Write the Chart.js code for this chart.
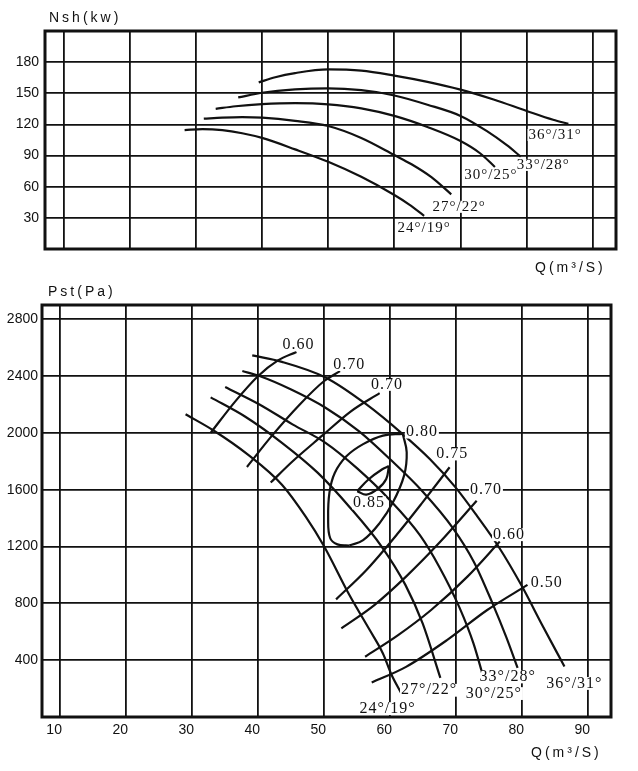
<!DOCTYPE html>
<html>
<head>
<meta charset="utf-8">
<script src="https://cdn.jsdelivr.net/npm/chart.js@4.4.1/dist/chart.umd.min.js"></script>
<style>
  html, body { margin: 0; padding: 0; background: #fff; }
  #wrap { position: relative; width: 638px; height: 771px; }
  canvas { position: absolute; left: 0; }
  #nshChart { top: 0; }
  #pstChart { top: 280px; }
</style>
</head>
<body>
<div id="wrap">
  <canvas id="nshChart" width="638" height="280"></canvas>
  <canvas id="pstChart" width="638" height="491"></canvas>
</div>
<script>
// ---- tick labels ----
const qTicks = [10, 20, 30, 40, 50, 60, 70, 80, 90];
const nshTicks = [30, 60, 90, 120, 150, 180];
const pstTicks = [400, 800, 1200, 1600, 2000, 2400, 2800];

const bladeAngles = ["24°/19°", "27°/22°", "30°/25°", "33°/28°", "36°/31°"];

// ---- shaft power Nsh (kW) vs Q ----
const nshQ24 = [28.3, 31, 34, 37, 40, 45, 50, 55, 60, 62.2, 64.5];
const nsh24 = [114.5, 115.5, 114.5, 111.5, 107, 96, 84, 69.5, 52, 43, 32];
const nshQ27 = [31.2, 34, 37, 40, 45, 50, 55, 60, 62.6, 65.6, 68.6];
const nsh27 = [125.5, 126.5, 127, 126.5, 123.5, 118.5, 107, 90.5, 81.6, 69.2, 52.7];
const nshQ30 = [33, 36, 40, 45, 50, 55, 60, 65, 70, 73, 75.2];
const nsh30 = [135, 137.5, 139.5, 140.5, 139.4, 135.5, 128.2, 117.5, 104, 92, 79];
const nshQ33 = [36.4, 40, 45, 50, 55, 60, 65, 70, 74, 77, 79.1];
const nsh33 = [146, 150.5, 153.8, 154.8, 153, 147.9, 139, 128.2, 113.5, 100, 89];
const nshQ36 = [39.5, 42, 45, 50, 55, 60, 65, 70, 75, 80, 84, 86.3];
const nsh36 = [160.5, 165.5, 169.5, 173, 171.8, 167, 161, 153.5, 144, 133, 124.5, 120.5];

const nshLabelQ = [64.5, 69.8, 74.6, 82.5, 84.3];
const nshLabelN = [20.5, 40.6, 71.4, 81, 109.8];

// ---- static pressure Pst (Pa) vs Q ----
const pstQ24 = [29, 33.3, 38.5, 43.6, 47.2, 50, 53.8, 56.9, 58.9, 60.2, 61.7];
const pst24 = [2131, 2015, 1845, 1635, 1410, 1200, 860, 612, 447, 297, 165];
const pstQ27 = [32.8, 38, 43.6, 49, 54, 58.7, 62.3, 64.9, 67.6];
const pst27 = [2250, 2115, 1930, 1720, 1470, 1200, 930, 660, 275];
const pstQ30 = [35, 40.2, 45.2, 50.2, 55, 59.9, 64.5, 67.4, 70.5, 72.6, 74.3];
const pst30 = [2323, 2200, 2060, 1930, 1750, 1530, 1280, 1060, 770, 520, 250];
const pstQ33 = [37.6, 40.2, 45, 50.2, 55.3, 60.2, 64.8, 69.5, 72.7, 75.5, 77.6, 79.3];
const pst33 = [2435, 2400, 2305, 2177, 2011, 1805, 1593, 1330, 1090, 800, 560, 345];
const pstQ36 = [39.1, 43.6, 50.2, 56.4, 61.8, 66, 69.9, 73.2, 76.4, 79.9, 83, 86.4];
const pst36 = [2545, 2500, 2390, 2200, 1995, 1816, 1616, 1412, 1200, 925, 650, 355];

const pstLabelQ = [59.6, 65.9, 75.7, 77.8, 87.9];
const pstLabelP = [59, 188, 165, 282, 236];

// ---- efficiency lines ----
const etaQ60a = [32.8, 36.5, 40, 43, 45.8];
const eta60a = [2000, 2220, 2400, 2510, 2570];
const etaQ70a = [38.3, 42, 46.3, 50, 52.4];
const eta70a = [1760, 1975, 2200, 2365, 2435];
const etaQ70b = [41.9, 45.1, 49.7, 54, 58.4];
const eta70b = [1650, 1795, 1980, 2150, 2280];
const etaQ75 = [51.8, 56.4, 61.2, 64.9, 69];
const eta75 = [828, 1035, 1295, 1511, 1758];
const etaQ70c = [52.6, 57.6, 62.4, 67.4, 73.1];
const eta70c = [624, 788, 988, 1224, 1522];
const etaQ60b = [56.2, 61.2, 66.2, 71.7, 76.6];
const eta60b = [424, 576, 753, 988, 1235];
const etaQ50 = [57.2, 62.4, 68.6, 74.7, 80.8];
const eta50 = [243, 353, 541, 753, 930];

// 0.80 and 0.85 islands, each as an upper and a lower edge
const etaQ80up = [61.9, 58.9, 55.9, 53.4, 51.6, 50.8, 50.6, 50.9, 52, 53.8];
const eta80up = [1993, 1981, 1921, 1837, 1718, 1581, 1400, 1260, 1215, 1207];
const etaQ80lo = [61.9, 62.5, 62.1, 60.4, 58.4, 55.9, 53.8];
const eta80lo = [1993, 1863, 1699, 1509, 1365, 1245, 1207];
const etaQ85up = [55, 56.7, 58.8, 59.8];
const eta85up = [1590, 1672, 1744, 1766];
const etaQ85lo = [55, 56.4, 58.1, 59.4, 59.8];
const eta85lo = [1590, 1565, 1605, 1676, 1766];

const etaNames = ["0.60", "0.70", "0.70", "0.80", "0.85", "0.75", "0.70", "0.60", "0.50"];
const etaLabelQ = [46.1, 53.8, 59.5, 64.8, 56.8, 69.4, 74.5, 78, 83.7];
const etaLabelP = [2620, 2481, 2341, 2005, 1507, 1851, 1600, 1283, 945];

const INK = "#111";
const SANS = "'Liberation Sans', Arial, sans-serif";
const SERIF = "'Liberation Serif', 'Times New Roman', serif";

const zip = (xs, ys) => xs.map((x, i) => ({ x: x, y: ys[i] }));

// curves running left to right use monotone splines, the closed islands a plain bezier
const curve = (xs, ys, closed) => ({
  data: zip(xs, ys),
  showLine: true,
  borderColor: INK,
  borderWidth: 2.2,
  pointRadius: 0,
  tension: 0.4,
  cubicInterpolationMode: closed ? "default" : "monotone",
  fill: false,
});

const fixedTicks = (values) => (axis) => {
  axis.ticks = values.map((v) => ({ value: v }));
};

const gridStyle = { color: INK, lineWidth: 1.8, drawTicks: false };

// frame, curve labels and axis captions
const overlay = (labels, captions, labelFont) => ({
  id: "overlay",
  afterDraw(chart) {
    const { ctx, chartArea, scales } = chart;
    ctx.save();
    ctx.strokeStyle = INK;
    ctx.lineWidth = 3;
    ctx.strokeRect(chartArea.left, chartArea.top,
      chartArea.right - chartArea.left, chartArea.bottom - chartArea.top);

    ctx.font = labelFont.size + "px " + SERIF;
    ctx.textAlign = "center";
    ctx.textBaseline = "middle";
    ctx.letterSpacing = "1px";
    labels.forEach((l) => {
      const x = scales.x.getPixelForValue(l.q);
      const y = scales.y.getPixelForValue(l.v);
      const w = ctx.measureText(l.text).width;
      const h = labelFont.size * 0.8;
      ctx.fillStyle = "#fff";
      ctx.fillRect(x - w / 2 - 1, y - h / 2, w + 2, h);
      ctx.fillStyle = INK;
      ctx.fillText(l.text, x, y);
    });

    ctx.font = "14px " + SANS;
    ctx.textAlign = "left";
    ctx.letterSpacing = "3px";
    ctx.fillStyle = INK;
    captions.forEach((c) => ctx.fillText(c.text, c.x, c.y));
    ctx.restore();
  },
});

const nshLabels = bladeAngles.map((t, i) => ({ text: t, q: nshLabelQ[i], v: nshLabelN[i] }));
const pstLabels = bladeAngles
  .map((t, i) => ({ text: t, q: pstLabelQ[i], v: pstLabelP[i] }))
  .concat(etaNames.map((t, i) => ({ text: t, q: etaLabelQ[i], v: etaLabelP[i] })));

new Chart(document.getElementById("nshChart"), {
  type: "scatter",
  data: {
    datasets: [
      curve(nshQ24, nsh24),
      curve(nshQ27, nsh27),
      curve(nshQ30, nsh30),
      curve(nshQ33, nsh33),
      curve(nshQ36, nsh36),
    ],
  },
  options: {
    responsive: false,
    animation: false,
    devicePixelRatio: 1,
    events: [],
    layout: { padding: { left: 0, top: 31, right: 22, bottom: 31 } },
    scales: {
      x: {
        type: "linear",
        min: 7.2,
        max: 93.5,
        afterBuildTicks: fixedTicks(qTicks),
        afterFit: (s) => { s.height = 0; },
        ticks: { display: false },
        grid: gridStyle,
        border: { display: false },
      },
      y: {
        type: "linear",
        min: 0,
        max: 210,
        afterBuildTicks: fixedTicks(nshTicks),
        afterFit: (s) => { s.width = 45; },
        ticks: { color: INK, padding: 6, font: { family: SANS, size: 14 }, callback: (v) => v },
        grid: gridStyle,
        border: { display: false },
      },
    },
    plugins: { legend: { display: false }, tooltip: { enabled: false } },
  },
  plugins: [overlay(nshLabels, [
    { text: "Nsh(kw)", x: 49, y: 18 },
    { text: "Q(m³/S)", x: 535, y: 268 },
  ], { size: 15 })],
});

new Chart(document.getElementById("pstChart"), {
  type: "scatter",
  data: {
    datasets: [
      curve(pstQ24, pst24),
      curve(pstQ27, pst27),
      curve(pstQ30, pst30),
      curve(pstQ33, pst33),
      curve(pstQ36, pst36),
      curve(etaQ60a, eta60a),
      curve(etaQ70a, eta70a),
      curve(etaQ70b, eta70b),
      curve(etaQ75, eta75),
      curve(etaQ70c, eta70c),
      curve(etaQ60b, eta60b),
      curve(etaQ50, eta50),
      curve(etaQ80up, eta80up, true),
      curve(etaQ80lo, eta80lo, true),
      curve(etaQ85up, eta85up, true),
      curve(etaQ85lo, eta85lo, true),
    ],
  },
  options: {
    responsive: false,
    animation: false,
    devicePixelRatio: 1,
    events: [],
    layout: { padding: { left: 0, top: 25, right: 27, bottom: 34 } },
    scales: {
      x: {
        type: "linear",
        min: 7.25,
        max: 93.45,
        afterBuildTicks: fixedTicks(qTicks),
        afterFit: (s) => { s.height = 20; },
        ticks: { color: INK, padding: 5, labelOffset: -6, font: { family: SANS, size: 14 }, callback: (v) => v },
        grid: gridStyle,
        border: { display: false },
      },
      y: {
        type: "linear",
        min: 0,
        max: 2900,
        afterBuildTicks: fixedTicks(pstTicks),
        afterFit: (s) => { s.width = 42; },
        ticks: { color: INK, padding: 4, font: { family: SANS, size: 14 }, callback: (v) => v },
        grid: gridStyle,
        border: { display: false },
      },
    },
    plugins: { legend: { display: false }, tooltip: { enabled: false } },
  },
  plugins: [overlay(pstLabels, [
    { text: "Pst(Pa)", x: 48, y: 12 },
    { text: "Q(m³/S)", x: 531, y: 473 },
  ], { size: 16 })],
});
</script>
</body>
</html>
